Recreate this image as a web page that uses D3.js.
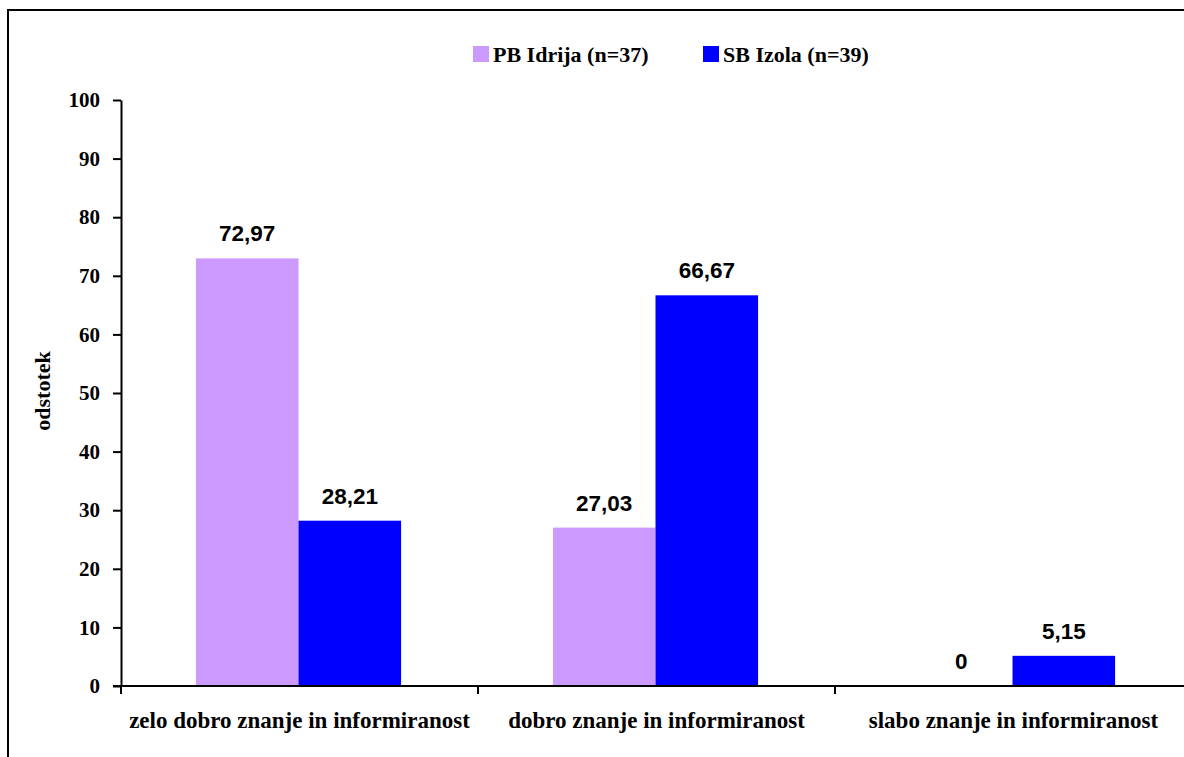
<!DOCTYPE html>
<html>
<head>
<meta charset="utf-8">
<script src="https://cdn.jsdelivr.net/npm/d3@7"></script>
<style>
  html, body { margin: 0; padding: 0; background: #fff; }
  svg { display: block; }
  .serif { font-family: "Liberation Serif", "Times New Roman", Times, serif; font-weight: bold; }
  .sans { font-family: "Liberation Sans", Arial, Helvetica, sans-serif; font-weight: bold; }
</style>
</head>
<body>
<svg id="chart" width="1184" height="757"></svg>
<script>
// Knowledge and information level by hospital (percent)
const categories = [
  "zelo dobro znanje in informiranost",
  "dobro znanje in informiranost",
  "slabo znanje in informiranost"
];
const seriesNames = ["PB Idrija (n=37)", "SB Izola (n=39)"];
const seriesColors = ["#cc99ff", "#0000ff"];
const idrijaValues = [72.97, 27.03, 0];
const izolaValues = [28.21, 66.67, 5.15];
const yTicks = [0, 10, 20, 30, 40, 50, 60, 70, 80, 90, 100];

(function () {
  const series = [idrijaValues, izolaValues];
  const fmt = v => String(v).replace(".", ",");

  const svg = d3.select("#chart");
  const W = 1184, H = 757;

  // outer frame (extends past right and bottom edge)
  svg.append("rect")
    .attr("x", 8).attr("y", 10)
    .attr("width", W + 20).attr("height", H + 20)
    .attr("fill", "none").attr("stroke", "#000").attr("stroke-width", 2);

  const mLeft = 121, mRight = 1192, mTop = 100, mBottom = 686;

  const x0 = d3.scaleBand().domain(categories).range([mLeft, mRight]).padding(0);
  const x1 = d3.scaleBand().domain([0, 1]).range([0, x0.bandwidth()])
    .paddingInner(0).paddingOuter(0.74);
  const y = d3.scaleLinear().domain([0, 100]).range([mBottom, mTop]);

  const cells = (d, i) => series.map((s, k) => ({ k, v: s[i] }));

  // bars
  const groups = svg.append("g").selectAll("g")
    .data(categories).join("g")
    .attr("transform", d => `translate(${x0(d) - 1},0)`);

  groups.selectAll("rect")
    .data(cells)
    .join("rect")
    .attr("x", d => x1(d.k))
    .attr("width", x1.bandwidth())
    .attr("y", d => y(d.v))
    .attr("height", d => y(0) - y(d.v))
    .attr("fill", d => seriesColors[d.k]);

  // value labels
  groups.selectAll("text")
    .data(cells)
    .join("text")
    .attr("class", "sans")
    .attr("x", d => x1(d.k) + x1.bandwidth() / 2)
    .attr("y", d => y(d.v) - 17)
    .attr("text-anchor", "middle")
    .attr("font-size", 22.5)
    .attr("fill", "#000")
    .text(d => fmt(d.v));

  // y axis
  const yAxis = d3.axisLeft(y).tickValues(yTicks).tickSize(8).tickPadding(13).tickSizeOuter(0);
  const yg = svg.append("g").attr("transform", `translate(${mLeft},0)`).call(yAxis);
  yg.attr("font-family", null).attr("font-size", null);
  yg.select(".domain").attr("stroke", "#000").attr("stroke-width", 2);
  yg.selectAll(".tick line").attr("stroke", "#000").attr("stroke-width", 2);
  yg.selectAll(".tick text")
    .attr("class", "serif").attr("font-size", 21).attr("fill", "#000");

  // x axis with boundary ticks between categories
  const xg = svg.append("g").attr("transform", `translate(0,${mBottom})`);
  xg.append("line").attr("x1", mLeft - 8).attr("x2", W).attr("y1", 0).attr("y2", 0)
    .attr("stroke", "#000").attr("stroke-width", 2);
  xg.selectAll("line.tick")
    .data(categories).join("line").attr("class", "tick")
    .attr("x1", d => x0(d)).attr("x2", d => x0(d))
    .attr("y1", 0).attr("y2", 8)
    .attr("stroke", "#000").attr("stroke-width", 2);
  xg.selectAll("text")
    .data(categories).join("text")
    .attr("class", "serif")
    .attr("x", d => x0(d) + x0.bandwidth() / 2)
    .attr("y", 42)
    .attr("text-anchor", "middle")
    .attr("font-size", 23)
    .attr("fill", "#000")
    .text(d => d);

  // y axis title
  svg.append("text")
    .attr("class", "serif")
    .attr("transform", "translate(50,391) rotate(-90)")
    .attr("text-anchor", "middle")
    .attr("font-size", 22)
    .attr("fill", "#000")
    .text("odstotek");

  // legend
  const legendItems = [
    { name: seriesNames[0], color: seriesColors[0], x: 473 },
    { name: seriesNames[1], color: seriesColors[1], x: 703 }
  ];
  const lg = svg.append("g").selectAll("g").data(legendItems).join("g")
    .attr("transform", d => `translate(${d.x},46)`);
  lg.append("rect").attr("width", 16).attr("height", 16).attr("fill", d => d.color);
  lg.append("text")
    .attr("class", "serif")
    .attr("x", 20).attr("y", 16)
    .attr("font-size", 22)
    .attr("fill", "#000")
    .text(d => d.name);
})();
</script>
</body>
</html>
